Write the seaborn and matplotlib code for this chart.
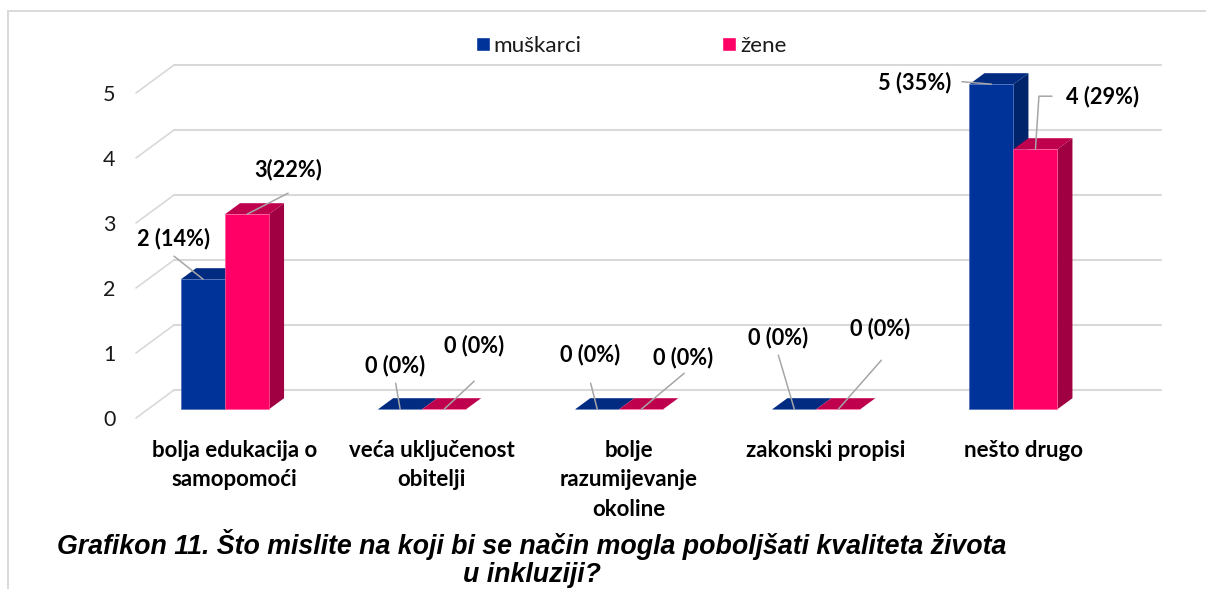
import numpy as np
import pandas as pd
import seaborn as sns
import matplotlib.pyplot as plt
from matplotlib.lines import Line2D
from matplotlib.patches import Polygon

# Data
categories = ["bolja edukacija o\nsamopomoći", "veća uključenost\nobitelji",
              "bolje\nrazumijevanje\nokoline", "zakonski propisi", "nešto drugo"]
muskarci = [2, 0, 0, 0, 5]
zene = [3, 0, 0, 0, 4]
labels_m = ["2 (14%)", "0 (0%)", "0 (0%)", "0 (0%)", "5 (35%)"]
labels_z = ["3(22%)", "0 (0%)", "0 (0%)", "0 (0%)", "4 (29%)"]
y_ticks = [0, 1, 2, 3, 4, 5]
caption = ("Grafikon 11. Što mislite na koji bi se način mogla poboljšati kvaliteta života\n"
           "u inkluziji?")

# Colours
BLUE, BLUE_TOP, BLUE_SIDE = "#003399", "#002B80", "#00246B"
PINK, PINK_TOP, PINK_SIDE = "#FF0066", "#BF004D", "#A00042"
GRID = "#D9D9D9"
LEADER = "#A6A6A6"

# Layout, pixels
W, H = 1206, 589
UX, UY = 197.1, 65.0          # one category, one value
X_LEFT, Y_ZERO = 126.5, 409.2 # bar plane
DEPTH_X, DEPTH_Y = 15 / UX, 11 / UY

# leader line points and label centre, in pixels from the bar top
leaders_m = [[(-29, 23)], [(-4.5, 26)], [(-6.6, 26)], [(-16, 54)], [(-29.5, 2.5)]]
leaders_z = [[(41, 21)], [(30, 28)], [(43, 36)], [(43, 49)], [(3.5, 53), (16.5, 53)]]
text_m = [(-30, 41), (-5, 44), (-7, 55), (-16, 72), (-77, 1.5)]
text_z = [(41, 45), (30, 64), (42, 52), (42, 81), (67.5, 53)]

sns.set_theme(style="white")
plt.rcParams["font.family"] = ["Lato", "DejaVu Sans"]

df = pd.DataFrame({
    "kategorija": categories * 2,
    "spol": ["muškarci"] * 5 + ["žene"] * 5,
    "broj": muskarci + zene,
})

fig = plt.figure(figsize=(W / 100, H / 100), dpi=100)
fig.patch.set_facecolor("white")

# axes runs from the front of the floor to just above the top of the wall
ax_top, ax_bottom, ax_right = 55, 418, 1161
ax = fig.add_axes([X_LEFT / W, 1 - ax_bottom / H, (ax_right - X_LEFT) / W, (ax_bottom - ax_top) / H])
ax.patch.set_alpha(0)

sns.barplot(data=df, x="kategorija", y="broj", hue="spol", order=categories,
            palette=[BLUE, PINK], width=2 * 44 / UX, gap=0, saturation=1, ax=ax)

ax.set_xlim(-0.5, -0.5 + (ax_right - X_LEFT) / UX)
ax.set_ylim((Y_ZERO - ax_bottom) / UY, (Y_ZERO - ax_top) / UY)
ax.set_xlabel("")
ax.set_ylabel("")
sns.despine(ax=ax, left=True, bottom=True, top=True, right=True)

# wall gridlines and the slanted floor part
floor_dy = (ax_bottom - Y_ZERO) / UY
wall_x0 = -0.5 + (174 - X_LEFT) / UX
front_x0 = -0.5 + (136 - X_LEFT) / UX
wall_y0 = (Y_ZERO - 390) / UY
for v in y_ticks:
    ax.plot([front_x0, wall_x0], [v - floor_dy, v + wall_y0], color=GRID, lw=1.2, zorder=1,
            clip_on=False, solid_capstyle="round")
    ax.plot([wall_x0, ax.get_xlim()[1]], [v + wall_y0, v + wall_y0], color=GRID, lw=1.5, zorder=1,
            clip_on=False)

ax.set_yticks([v - floor_dy for v in y_ticks])
ax.set_yticklabels([str(v) for v in y_ticks], fontsize=15.5, color="#1a1a1a")
ax.tick_params(axis="y", length=0, pad=8)
ax.set_xticks(np.arange(5) + 9.7 / UX)
ax.set_xticklabels(categories, fontsize=16, fontweight="bold", color="black", linespacing=1.5)
ax.tick_params(axis="x", length=0, pad=15.5)

# side and top faces of the bars
styles = [(BLUE_TOP, BLUE_SIDE, "#4A6DB8", 2), (PINK_TOP, PINK_SIDE, "#FF5C9A", 3)]
for container, (top, side, edge, z) in zip(ax.containers, styles):
    for bar in container:
        x0, w, h = bar.get_x(), bar.get_width(), bar.get_height()
        bar.set_zorder(z)
        bar.set_edgecolor(edge)
        bar.set_linewidth(0.5)
        ax.add_patch(Polygon([(x0, h), (x0 + w, h), (x0 + w + DEPTH_X, h + DEPTH_Y), (x0 + DEPTH_X, h + DEPTH_Y)],
                             closed=True, facecolor=top, edgecolor="none", zorder=z - 0.5))
        if h > 0:
            ax.add_patch(Polygon([(x0 + w, 0), (x0 + w + DEPTH_X, DEPTH_Y), (x0 + w + DEPTH_X, h + DEPTH_Y), (x0 + w, h)],
                                 closed=True, facecolor=side, edgecolor="none", zorder=z - 0.5))

# value labels with leader lines
series = [(ax.containers[0], labels_m, leaders_m, text_m),
          (ax.containers[1], labels_z, leaders_z, text_z)]
for container, labs, leaders, texts in series:
    for bar, lab, path, off in zip(container, labs, leaders, texts):
        tip = (bar.get_x() + bar.get_width() / 2, bar.get_height())
        tip_px = ax.transData.transform(tip)
        pts = [tip_px] + [tip_px + np.array(p) for p in path]
        pts = ax.transData.inverted().transform(np.array(pts))
        ax.plot(pts[:, 0], pts[:, 1], color=LEADER, lw=1.1, zorder=5, clip_on=False)
        ax.annotate(lab, xy=tip, xytext=off, textcoords="offset pixels", ha="center", va="center",
                    fontsize=15.7, fontweight="bold", color="black", zorder=6)

# legend
handles, names = ax.get_legend_handles_labels()
ax.legend(handles, names, ncols=2, frameon=False, loc="center", bbox_to_anchor=(631 / W, 1 - 46 / H),
          bbox_transform=fig.transFigure, prop={"size": 16.2}, handlelength=0.62, handleheight=0.62,
          handletextpad=0.17, columnspacing=6.25, labelcolor="#1a1a1a")

# frame left from the page
fig.add_artist(Line2D([8 / W, 1], [1 - 10.7 / H, 1 - 10.7 / H], color=GRID, lw=1.4))
fig.add_artist(Line2D([8 / W, 8 / W], [1 - 10.7 / H, 0], color=GRID, lw=1.4))

fig.text(532 / W, 1 - 558.5 / H, caption, ha="center", va="center", family="Liberation Sans",
         fontsize=19.25, fontweight="bold", fontstyle="italic", color="black", linespacing=1.12)

fig.savefig("out.png", dpi=100)
